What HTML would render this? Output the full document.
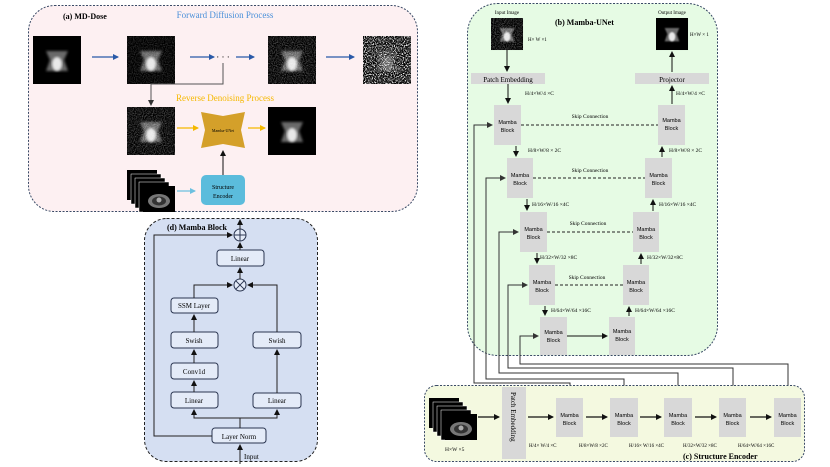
<!DOCTYPE html>
<html><head><meta charset="utf-8"><style>
html,body{margin:0;padding:0;background:#fff;}
svg{display:block;font-family:"Liberation Serif",serif;}
</style></head><body>
<svg width="830" height="467" viewBox="0 0 830 467" xmlns="http://www.w3.org/2000/svg">
<defs>
<marker id="ab" markerWidth="6" markerHeight="6" refX="5" refY="3" orient="auto" markerUnits="userSpaceOnUse"><path d="M0,0 L6,3 L0,6z" fill="#2a5aa8"/></marker>
<marker id="ao" markerWidth="6" markerHeight="6" refX="5" refY="3" orient="auto" markerUnits="userSpaceOnUse"><path d="M0,0 L6,3 L0,6z" fill="#f5b800"/></marker>
<marker id="al" markerWidth="6" markerHeight="6" refX="5" refY="3" orient="auto" markerUnits="userSpaceOnUse"><path d="M0,0 L6,3 L0,6z" fill="#6cc0e0"/></marker>
<marker id="ak" markerWidth="6" markerHeight="6" refX="5" refY="3" orient="auto" markerUnits="userSpaceOnUse"><path d="M0,0 L6,3 L0,6z" fill="#111"/></marker>
<marker id="ag" markerWidth="6" markerHeight="6" refX="5" refY="3" orient="auto" markerUnits="userSpaceOnUse"><path d="M0,0 L6,3 L0,6z" fill="#333"/></marker>
<filter id="n1" x="0" y="0" width="1" height="1"><feTurbulence type="fractalNoise" baseFrequency="0.9" numOctaves="1" seed="3"/><feColorMatrix type="matrix" values="0 0 0 0 1  0 0 0 0 1  0 0 0 0 1  1.4 0 0 0 -0.55"/></filter>
<filter id="n2" x="0" y="0" width="1" height="1"><feTurbulence type="fractalNoise" baseFrequency="0.9" numOctaves="1" seed="7"/><feColorMatrix type="matrix" values="0 0 0 0 1  0 0 0 0 1  0 0 0 0 1  4 0 0 0 -1.8"/></filter>
<filter id="bl"><feGaussianBlur stdDeviation="1.2"/></filter>
<g id="ct"><rect width="48" height="48" fill="#000"/><path d="M13,15 L35,15 L31,24 L35,35 L13,35 L17,24z" fill="#6a6a6a" filter="url(#bl)"/><ellipse cx="24" cy="28" rx="5" ry="7" fill="#e8e8e8" filter="url(#bl)"/></g>
<g id="stack"><rect x="0" y="0" width="30" height="30" fill="#000"/><rect x="4" y="4" width="30" height="30" fill="#000" stroke="#fff" stroke-width=".5"/><rect x="8" y="8" width="30" height="30" fill="#000" stroke="#fff" stroke-width=".5"/><rect x="12" y="12" width="30" height="30" fill="#000" stroke="#fff" stroke-width=".5"/><rect x="16" y="16" width="32" height="26" fill="#000"/><ellipse cx="32" cy="31" rx="11" ry="7" fill="#777"/><ellipse cx="32" cy="31" rx="7" ry="4.5" fill="#333"/><circle cx="32" cy="30" r="2.5" fill="#aaa"/></g>
</defs>

<!-- Panel (a) -->
<rect x="28.5" y="5.5" width="389" height="206" rx="26" fill="#fdf0f2" stroke="#3a4a66" stroke-width="1" stroke-dasharray="2,1.5"/>
<text x="63" y="19" font-size="8" font-weight="bold">(a) MD-Dose</text>
<text x="225" y="18" font-size="9" fill="#4a90d9" text-anchor="middle">Forward Diffusion Process</text>
<use href="#ct" x="33" y="36"/>
<use href="#ct" x="127" y="36"/><rect x="127" y="36" width="48" height="48" filter="url(#n1)" opacity=".35"/>
<use href="#ct" x="268" y="36"/><rect x="268" y="36" width="48" height="48" filter="url(#n1)" opacity=".6"/>
<rect x="363" y="36" width="48" height="48" fill="#000"/><use href="#ct" x="363" y="36" opacity=".4"/><rect x="363" y="36" width="48" height="48" filter="url(#n2)"/>
<g stroke="#2a5aa8" stroke-width="1.3" marker-end="url(#ab)">
<line x1="92" y1="57" x2="118" y2="57"/><line x1="190" y1="57" x2="214" y2="57"/><line x1="236" y1="57" x2="254" y2="57"/><line x1="326" y1="57" x2="354" y2="57"/></g>
<text x="223" y="60" font-size="9" text-anchor="middle">· · ·</text>
<polyline points="223,63 223,84 151,84 151,105" fill="none" stroke="#555" stroke-width="1" marker-end="url(#ag)"/>
<text x="225" y="101" font-size="9" fill="#f5b800" text-anchor="middle">Reverse Denoising Process</text>
<use href="#ct" x="127" y="107"/><rect x="127" y="107" width="48" height="48" filter="url(#n1)" opacity=".6"/>
<path d="M201,112 L223,116 L245,112 L241,130 L245,148 L223,144 L201,148 L205,130z" fill="#d4a02a"/>
<text x="223" y="132" font-size="4" text-anchor="middle">Mamba-UNet</text>
<use href="#ct" x="268" y="107"/>
<g stroke="#f5b800" stroke-width="1.2" marker-end="url(#ao)"><line x1="177" y1="128" x2="198" y2="128"/><line x1="248" y1="128" x2="265" y2="128"/></g>
<use href="#stack" x="127" y="170"/>
<line x1="177" y1="191" x2="195" y2="191" stroke="#6cc0e0" stroke-width="1.2" marker-end="url(#al)"/>
<rect x="201" y="175" width="44" height="30" rx="5" fill="#5bbcdc"/>
<text x="223" y="189" font-size="6" text-anchor="middle">Structure</text><text x="223" y="198" font-size="6" text-anchor="middle">Encoder</text>
<line x1="223" y1="175" x2="223" y2="151" stroke="#111" stroke-width="1" marker-end="url(#ak)"/>

<!-- Panel (d) -->
<rect x="144.5" y="218.5" width="173" height="243" rx="22" fill="#d5dff2" stroke="#222" stroke-width="1" stroke-dasharray="3,2"/>
<text x="167" y="230" font-size="8" font-weight="bold">(d) Mamba Block</text>
<g fill="#e4ebf8" stroke="#2a3550" stroke-width="1">
<rect x="217" y="250" width="47" height="16" rx="3"/>
<rect x="171" y="298" width="47" height="15" rx="3"/>
<rect x="171" y="332" width="47" height="16" rx="3"/>
<rect x="171" y="363" width="47" height="16" rx="3"/>
<rect x="171" y="392" width="47" height="16" rx="3"/>
<rect x="253" y="332" width="48" height="16" rx="3"/>
<rect x="253" y="393" width="48" height="15" rx="3"/>
<rect x="212" y="428" width="54" height="15" rx="3"/>
<circle cx="240" cy="235" r="6"/><circle cx="240" cy="285" r="6"/></g>
<g stroke="#2a3550" stroke-width="1"><line x1="234" y1="235" x2="246" y2="235"/><line x1="240" y1="229" x2="240" y2="241"/><line x1="235.8" y1="280.8" x2="244.2" y2="289.2"/><line x1="244.2" y1="280.8" x2="235.8" y2="289.2"/></g>
<g font-size="7" text-anchor="middle">
<text x="240" y="261">Linear</text><text x="194" y="308">SSM Layer</text><text x="194" y="343">Swish</text><text x="194" y="374">Conv1d</text><text x="194" y="403">Linear</text><text x="277" y="343">Swish</text><text x="277" y="403">Linear</text><text x="239" y="439">Layer Norm</text></g>
<text x="244" y="459" font-size="7">Input</text>
<g stroke="#222" stroke-width="1" fill="none" marker-end="url(#ak)">
<line x1="240" y1="464" x2="240" y2="445"/>
<line x1="240" y1="229" x2="240" y2="220"/>
<line x1="240" y1="250" x2="240" y2="243"/>
<line x1="240" y1="279" x2="240" y2="268"/>
<polyline points="212,436 154,436 154,235 232,235"/>
<polyline points="240,428 240,418 194,418 194,410"/>
<polyline points="240,418 277,418 277,410"/>
<line x1="194" y1="392" x2="194" y2="381"/>
<line x1="194" y1="363" x2="194" y2="350"/>
<line x1="194" y1="332" x2="194" y2="315"/>
<line x1="277" y1="393" x2="277" y2="350"/>
<polyline points="194,298 194,285 232,285"/>
<polyline points="277,332 277,285 248,285"/>
</g>

<!-- Panel (b) -->
<rect x="467.5" y="3.5" width="250" height="352" rx="30" fill="#e6fbe4" stroke="#3a4a66" stroke-width="1" stroke-dasharray="2,1.5"/>
<text x="507" y="14" font-size="5" text-anchor="middle">Input Image</text>
<text x="672" y="14" font-size="5" text-anchor="middle">Output Image</text>
<use href="#ct" transform="translate(491,18) scale(0.667)"/><rect x="491" y="18" width="32" height="32" filter="url(#n1)" opacity=".6"/>
<use href="#ct" transform="translate(656,18) scale(0.667)"/>
<text x="528" y="41" font-size="5">H× W ×1</text><text x="690" y="36" font-size="5">H×W × 1</text>
<text x="555" y="25" font-size="8" font-weight="bold">(b) Mamba-UNet</text>
<rect x="471" y="73" width="74" height="11" fill="#d8d8d8"/><text x="508" y="82" font-size="7" text-anchor="middle">Patch Embedding</text>
<rect x="635" y="73" width="74" height="11" fill="#d8d8d8"/><text x="672" y="82" font-size="7" text-anchor="middle">Projector</text>
<g fill="#d8d8d8">
<rect x="494" y="105" width="27" height="40"/><rect x="507" y="158" width="26" height="40"/><rect x="520" y="212" width="27" height="40"/><rect x="529" y="265" width="26" height="40"/><rect x="540" y="317" width="27" height="38"/>
<rect x="609" y="317" width="26" height="38"/><rect x="623" y="265" width="26" height="40"/><rect x="633" y="212" width="26" height="40"/><rect x="645" y="158" width="27" height="40"/><rect x="658" y="105" width="27" height="40"/>
</g>
<g font-size="5.5" text-anchor="middle" font-family="Liberation Sans,sans-serif">
<text x="507.5" y="124">Mamba</text><text x="507.5" y="132">Block</text>
<text x="520" y="177">Mamba</text><text x="520" y="185">Block</text>
<text x="533.5" y="231">Mamba</text><text x="533.5" y="239">Block</text>
<text x="542" y="284">Mamba</text><text x="542" y="292">Block</text>
<text x="553.5" y="334">Mamba</text><text x="553.5" y="342">Block</text>
<text x="622" y="333">Mamba</text><text x="622" y="341">Block</text>
<text x="636" y="284">Mamba</text><text x="636" y="292">Block</text>
<text x="646" y="231">Mamba</text><text x="646" y="239">Block</text>
<text x="658.5" y="177">Mamba</text><text x="658.5" y="185">Block</text>
<text x="671.5" y="122">Mamba</text><text x="671.5" y="130">Block</text>
</g>
<g stroke="#222" stroke-width="0.9" stroke-dasharray="3,2">
<line x1="521" y1="125" x2="658" y2="125"/><line x1="533" y1="178" x2="645" y2="178"/><line x1="547" y1="232" x2="633" y2="232"/><line x1="555" y1="285" x2="623" y2="285"/></g>
<g font-size="5.5" text-anchor="middle"><text x="590" y="118">Skip Connection</text><text x="590" y="172">Skip Connection</text><text x="588" y="225">Skip Connection</text><text x="587" y="279">Skip Connection</text></g>
<g stroke="#111" stroke-width="1" fill="none" marker-end="url(#ak)">
<line x1="507" y1="50" x2="507" y2="71"/><line x1="508" y1="84" x2="508" y2="103"/>
<line x1="516" y1="146" x2="516" y2="156"/><line x1="527" y1="199" x2="527" y2="210"/><line x1="537" y1="253" x2="537" y2="263"/><line x1="545" y1="306" x2="545" y2="315"/>
<line x1="567" y1="336" x2="607" y2="336"/>
<line x1="629" y1="316" x2="629" y2="307"/><line x1="641" y1="264" x2="641" y2="254"/><line x1="653" y1="211" x2="653" y2="200"/><line x1="662" y1="157" x2="662" y2="147"/><line x1="672" y1="104" x2="672" y2="86"/><line x1="672" y1="72" x2="672" y2="52"/>
</g>
<g font-size="5.5">
<text x="525" y="95">H/4×W/4 ×C</text><text x="676" y="95">H/4×W/4 ×C</text>
<text x="528" y="152">H/8×W/8 × 2C</text><text x="669" y="152">H/8×W/8 × 2C</text>
<text x="532" y="206">H/16×W/16 ×4C</text><text x="659" y="206">H/16×W/16 ×4C</text>
<text x="540" y="259">H/32×W/32 ×8C</text><text x="647" y="259">H/32×W/32×8C</text>
<text x="551" y="312">H/64×W/64 ×16C</text><text x="635" y="312">H/64×W/64 ×16C</text>
</g>

<!-- connectors encoder -> unet -->
<g stroke="#333" stroke-width="1" fill="none" marker-end="url(#ag)">
<polyline points="570,398 570,383 474,383 474,125 492,125"/>
<polyline points="624,398 624,379 486,379 486,178 505,178"/>
<polyline points="678,398 678,373 499,373 499,232 518,232"/>
<polyline points="733,398 733,368 508,368 508,285 527,285"/>
<polyline points="788,398 788,364 520,364 520,336 538,336"/>
</g>

<!-- Panel (c) -->
<rect x="424.5" y="385.5" width="380" height="76" rx="12" fill="#f4f9e0" stroke="#3a4a66" stroke-width="1" stroke-dasharray="2,1.5"/>
<use href="#stack" x="429" y="398"/>
<text x="445" y="451" font-size="5.5">H×W ×5</text>
<rect x="502" y="387" width="24" height="72" fill="#d8d8d8"/>
<text transform="translate(511,392) rotate(90)" font-size="7">Patch Embedding</text>
<g fill="#d8d8d8"><rect x="556" y="398" width="27" height="39"/><rect x="610" y="398" width="28" height="39"/><rect x="664" y="398" width="28" height="39"/><rect x="719" y="398" width="27" height="39"/><rect x="774" y="398" width="27" height="39"/></g>
<g font-size="5.5" text-anchor="middle" font-family="Liberation Sans,sans-serif">
<text x="569.5" y="417">Mamba</text><text x="569.5" y="425">Block</text>
<text x="624" y="417">Mamba</text><text x="624" y="425">Block</text>
<text x="678" y="417">Mamba</text><text x="678" y="425">Block</text>
<text x="732.5" y="417">Mamba</text><text x="732.5" y="425">Block</text>
<text x="787.5" y="417">Mamba</text><text x="787.5" y="425">Block</text></g>
<g stroke="#111" stroke-width="1.2" marker-end="url(#ak)">
<line x1="478" y1="417" x2="499" y2="417"/><line x1="528" y1="417" x2="553" y2="417"/><line x1="586" y1="417" x2="607" y2="417"/><line x1="640" y1="417" x2="661" y2="417"/><line x1="695" y1="417" x2="716" y2="417"/><line x1="750" y1="417" x2="771" y2="417"/></g>
<g font-size="5"><text x="529" y="447">H/4× W/4 ×C</text><text x="579" y="447">H/8×W/8 ×2C</text><text x="629" y="447">H/16× W/16 ×4C</text><text x="683" y="447">H/32×W/32 ×8C</text><text x="738" y="447">H/64×W/64 ×16C</text></g>
<text x="683" y="459" font-size="8" font-weight="bold">(c) Structure Encoder</text>
</svg>
</body></html>
